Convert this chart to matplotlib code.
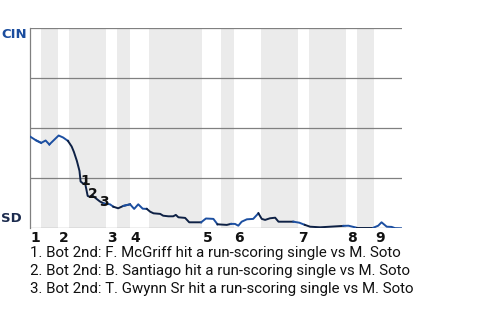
import numpy as np
import matplotlib.pyplot as plt

plt.rcParams['font.family'] = ['Roboto', 'DejaVu Sans']
bold_font = ['DejaVu Sans']

# win probability for CIN (top team) after each play, x = play index
play_x = [0, 1.6, 3.0, 4.2, 5.2, 7.7, 8.9, 10.2, 11.2, 11.8, 12.6, 13.3, 13.6, 14.4,
          14.8, 15.5, 16.1, 16.9, 17.9, 18.8, 19.9, 21.5, 22.4, 23.7, 25.1, 26.9,
          28.0, 29.1, 30.3, 31.4, 32.3, 33.2, 35.0, 35.8, 37.2, 38.5, 39.2, 39.9,
          41.7, 42.8, 46.0, 47.3, 48.4, 49.3, 50.4, 52.9, 54.0, 55.1, 56.0, 56.9,
          58.3, 60.0, 61.4, 62.3, 63.2, 64.5, 65.9, 66.8, 70.8, 72.4, 73.9, 75.3,
          78.0, 84.2, 85.6, 87.8, 92.3, 93.6, 94.5, 95.9, 97.2, 98.1, 100.0]
cin_wp = [0.459, 0.44, 0.427, 0.439, 0.419, 0.464, 0.454, 0.437, 0.409, 0.382, 0.337,
          0.287, 0.234, 0.222, 0.227, 0.162, 0.157, 0.162, 0.147, 0.134, 0.124, 0.12,
          0.108, 0.10, 0.112, 0.12, 0.097, 0.12, 0.098, 0.097, 0.083, 0.075, 0.072,
          0.063, 0.06, 0.06, 0.067, 0.055, 0.052, 0.03, 0.03, 0.049, 0.048, 0.047,
          0.02, 0.017, 0.022, 0.022, 0.013, 0.033, 0.045, 0.047, 0.075, 0.047, 0.042,
          0.05, 0.053, 0.033, 0.033, 0.028, 0.017, 0.008, 0.005, 0.012, 0.013, 0.003,
          0.003, 0.013, 0.03, 0.008, 0.007, 0.001, 0.0]

# half inning boundaries (play index) and which team colours the line
half_bounds = [0, 3.0, 7.5, 10.5, 20.4, 23.4, 26.9, 32.0, 46.2, 51.3, 54.8, 62.1,
               72.0, 75.0, 85.0, 87.9, 92.5, 100]
half_team = ['CIN', 'CIN', 'CIN', 'SD', 'CIN', 'SD', 'CIN', 'SD', 'CIN', 'SD',
             'CIN', 'SD', 'CIN', 'SD', 'CIN', 'SD', 'CIN']
inning_labels = ['1', '2', '3', '4', '5', '6', '7', '8', '9']

# key plays marked on the line
event_idx = [14, 17, 20]
event_text = [
    '1. Bot 2nd: F. McGriff hit a run-scoring single vs M. Soto',
    '2. Bot 2nd: B. Santiago hit a run-scoring single vs M. Soto',
    '3. Bot 2nd: T. Gwynn Sr hit a run-scoring single vs M. Soto',
]

team_color = {'CIN': '#1c4fa1', 'SD': '#0e2145'}
label_color = {'CIN': '#1b4d9e', 'SD': '#1c2b4e'}

fig = plt.figure(figsize=(4.8, 3.2), dpi=100)
ax = fig.add_axes([30 / 480, 1 - 228.3 / 320, 372 / 480, 200 / 320])

# shaded bottom halves
for i in range(1, len(half_bounds) - 1, 2):
    ax.axvspan(half_bounds[i], half_bounds[i + 1], color='#ebebeb', lw=0, zorder=0)

for yv in [0, 0.25, 0.5, 0.75, 1.0]:
    ax.axhline(yv, color='#808080', lw=0.9, zorder=1)

x = np.array(play_x)
y = np.array(cin_wp)
for h in range(len(half_bounds) - 1):
    lo, hi = half_bounds[h], half_bounds[h + 1]
    idx = np.where((x >= lo) & (x <= hi))[0]
    if len(idx) == 0:
        continue
    if idx[0] > 0:
        idx = np.concatenate([[idx[0] - 1], idx])
    ax.plot(x[idx], y[idx], color=team_color[half_team[h]], lw=1.4,
            solid_joinstyle='round', zorder=3)

for n, i in enumerate(event_idx):
    ax.text(x[i], y[i] + 0.01, str(n + 1), fontsize=10, fontweight='bold',
            family=bold_font, ha='center', va='center', color='#111111', zorder=4)

for k, lab in enumerate(inning_labels):
    ax.text(half_bounds[2 * k] + 0.2, -0.012, lab, fontsize=10, fontweight='bold',
            family=bold_font, ha='left', va='top', color='#111111')

ax.text(-0.078, 0.97, 'CIN', transform=ax.transAxes, fontsize=9.5, fontweight='bold',
        family=bold_font, color=label_color['CIN'], ha='left', va='center')
ax.text(-0.078, 0.05, 'SD', transform=ax.transAxes, fontsize=9.5, fontweight='bold',
        family=bold_font, color=label_color['SD'], ha='left', va='center')

for n, t in enumerate(event_text):
    fig.text(30 / 480, 1 - (253 + 18 * n) / 320, t, fontsize=10.8, color='#111111',
             ha='left', va='center')

ax.set_xlim(0, 100)
ax.set_ylim(0, 1)
ax.set_xticks([])
ax.set_yticks([])
for s in ['top', 'right', 'bottom']:
    ax.spines[s].set_visible(False)
ax.spines['left'].set_color('#808080')
ax.spines['left'].set_linewidth(0.9)

fig.savefig('out.png', dpi=100)
